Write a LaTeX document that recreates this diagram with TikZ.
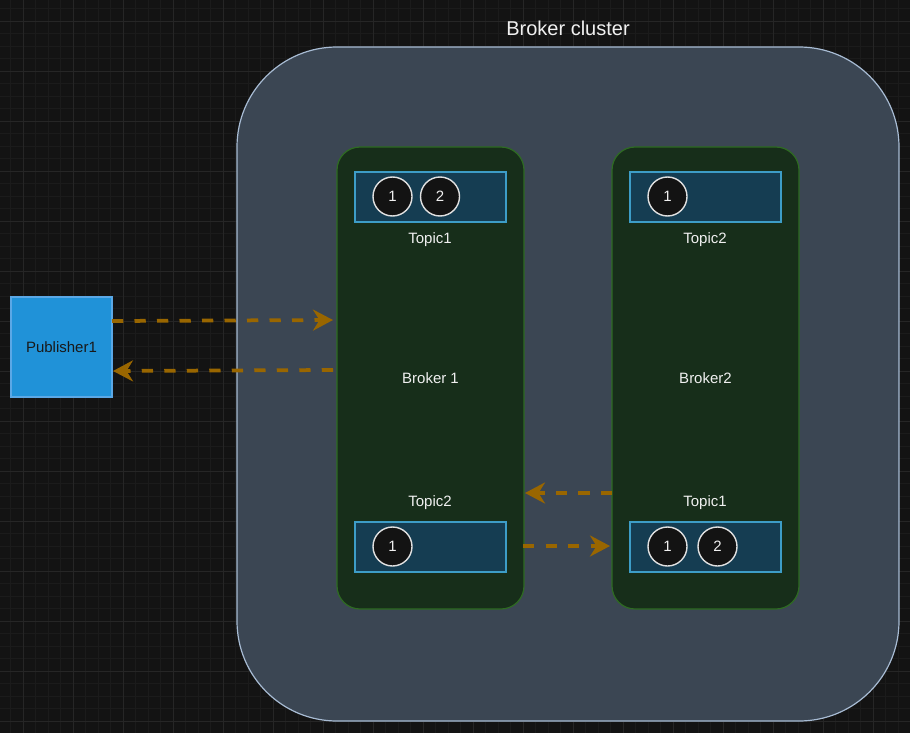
\documentclass[tikz,border=0pt]{standalone}
\usepackage{fontspec}
\setmainfont{Liberation Sans}
\usetikzlibrary{arrows.meta}
\definecolor{bgc}{HTML}{131313}
\definecolor{minorc}{HTML}{1B1B1B}
\definecolor{majorc}{HTML}{262626}
\definecolor{clfill}{HTML}{3B4653}
\definecolor{cldraw}{HTML}{A8BCD4}
\definecolor{brfill}{HTML}{172E1A}
\definecolor{brdraw}{HTML}{2E6B22}
\definecolor{tpfill}{HTML}{153D52}
\definecolor{tpdraw}{HTML}{3D9DC7}
\definecolor{pubfill}{HTML}{2092D8}
\definecolor{pubdraw}{HTML}{5BA8E6}
\definecolor{flowc}{HTML}{996600}
\definecolor{txtc}{HTML}{F0F0F0}
\begin{document}
\begin{tikzpicture}[x=1pt,y=-1pt,
  minorgrid/.style={draw=minorc,line width=0.8pt},
  majorgrid/.style={draw=majorc,line width=0.9pt},
  cluster/.style={draw=cldraw,fill=clfill,line width=1.2pt,rounded corners=100pt,minimum width=662pt,minimum height=674pt,inner sep=0pt},
  title/.style={text=txtc,font=\fontsize{20}{24}\selectfont},
  broker/.style={draw=brdraw,fill=brfill,line width=1.2pt,rounded corners=23pt,minimum width=187pt,minimum height=462pt,inner sep=0pt,text=txtc,font=\fontsize{15}{18}\selectfont},
  topicbox/.style={draw=tpdraw,fill=tpfill,line width=1.2pt,minimum width=151pt,minimum height=50pt,inner sep=0pt},
  part/.style={circle,draw=white!88!black,fill=bgc,line width=1.4pt,minimum size=39pt,inner sep=0pt,text=txtc,font=\fontsize{15}{18}\selectfont},
  lbl/.style={text=txtc,font=\fontsize{15}{18}\selectfont},
  pub/.style={draw=pubdraw,fill=pubfill,line width=1.2pt,minimum width=101pt,minimum height=100pt,inner sep=0pt,text=black!90,font=\fontsize{15}{18}\selectfont},
  flow/.style={draw=flowc,line width=3.75pt,dash pattern=on 11.25pt off 11.25pt,-{Stealth[length=20pt,width=21pt,inset=6.5pt]}}
]
\useasboundingbox (0,0) rectangle (910,733);
\fill[bgc] (0,0) rectangle (910,733);
\begin{scope}
\clip (0,0) rectangle (910,733);
\foreach \i in {0,...,74} \draw[minorgrid] ({-2+12.5*\i},0) -- ({-2+12.5*\i},733);
\foreach \i in {0,...,60} \draw[minorgrid] (0,{-4+12.5*\i}) -- (910,{-4+12.5*\i});
\foreach \i in {0,...,19} \draw[majorgrid] ({-27+50*\i},0) -- ({-27+50*\i},733);
\foreach \i in {0,...,15} \draw[majorgrid] (0,{-29+50*\i}) -- (910,{-29+50*\i});
\end{scope}

\node[cluster] (cluster) at (568,384) {};
\node[title] (ctitle) at (568,28) {Broker cluster};

\node[broker] (b1) at (430.5,378) {Broker 1};
\node[broker] (b2) at (705.5,378) {Broker2};

% Broker 1 topics
\node[topicbox] (b1t1) at (430.5,197) {};
\node[part] (b1t1p1) at (392.5,196.5) {1};
\node[part] (b1t1p2) at (440,196.5) {2};
\node[lbl] (b1t1l) at (430,240) {Topic1};

\node[lbl] (b1t2l) at (430,503) {Topic2};
\node[topicbox] (b1t2) at (430.5,547) {};
\node[part] (b1t2p1) at (392.5,546.5) {1};

% Broker 2 topics
\node[topicbox] (b2t2) at (705.5,197) {};
\node[part] (b2t2p1) at (667.5,196.5) {1};
\node[lbl] (b2t2l) at (705,240) {Topic2};

\node[lbl] (b2t1l) at (705,503) {Topic1};
\node[topicbox] (b2t1) at (705.5,547) {};
\node[part] (b2t1p1) at (667.5,546.5) {1};
\node[part] (b2t1p2) at (717.5,546.5) {2};

% Publisher
\node[pub] (pub) at (61.5,347) {Publisher1};

% connectors
\coordinate (a1s) at (112,321);
\coordinate (a1e) at (333,320);
\coordinate (a2s) at (333,370);
\coordinate (a2e) at (113,371);
\coordinate (a3s) at (612,493);
\coordinate (a3e) at (525,493);
\coordinate (a4s) at (523,546);
\coordinate (a4e) at (610,546);
\draw[flow] (a1s) -- (a1e);
\draw[flow] (a2s) -- (a2e);
\draw[flow] (a3s) -- (a3e);
\draw[flow] (a4s) -- (a4e);
\end{tikzpicture}
\end{document}
